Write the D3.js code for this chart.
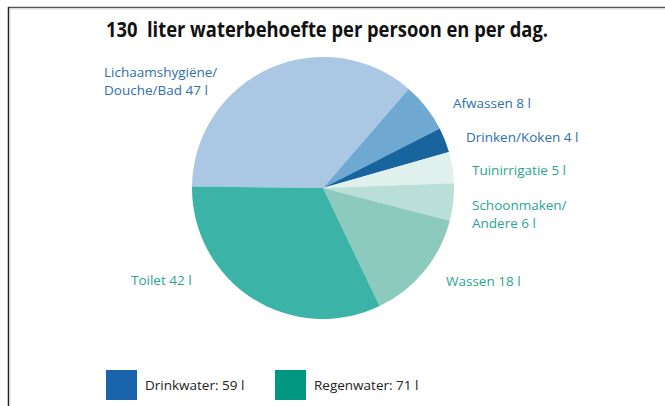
<!DOCTYPE html>
<html><head><meta charset="utf-8">
<script src="https://cdn.jsdelivr.net/npm/d3@7"></script>
<style>body{margin:0;background:#fff}svg{display:block}text{font-family:"Open Sans",sans-serif}</style>
</head><body>
<svg id="c" width="665" height="406"></svg>
<script>
const categories = ["Lichaamshygiëne/\nDouche/Bad 47 l","Afwassen 8 l","Drinken/Koken 4 l","Tuinirrigatie 5 l","Schoonmaken/\nAndere 6 l","Wassen 18 l","Toilet 42 l"];
const values = [47, 8, 4, 5, 6, 18, 42];
const sliceColors = ["#aac8e3","#6fa9d1","#17649f","#e0f0ed","#b9dfd8","#8ccabe","#3bb4a7"];
const labelColors = ["#2f6fab","#2f6fab","#2f6fab","#2aa593","#2aa593","#2aa593","#2aa593"];
const labelPos = [[104,77,"start"],[453,108,"start"],[466,142,"start"],[472,175,"start"],[472,210,"start"],[446,286,"start"],[131,285,"start"]];
const legendLabels = ["Drinkwater: 59 l","Regenwater: 71 l"];
const legendColors = ["#1a64ae","#009781"];
const title = "130  liter waterbehoefte per persoon en per dag.";

const svg = d3.select("#c");
// frame
svg.append("line").attr("x1",8).attr("x2",665).attr("y1",7.5).attr("y2",7.5).attr("stroke","#555").attr("stroke-width",1.5);
svg.append("line").attr("x1",9).attr("x2",665).attr("y1",9).attr("y2",9).attr("stroke","#ddd").attr("stroke-width",1);
svg.append("line").attr("x1",8.5).attr("x2",8.5).attr("y1",7).attr("y2",406).attr("stroke","#222").attr("stroke-width",1.5);
svg.append("line").attr("x1",10).attr("x2",10).attr("y1",9).attr("y2",406).attr("stroke","#ddd").attr("stroke-width",1);

svg.append("text").attr("x",106).attr("y",37).attr("font-size",20.5).attr("font-weight",700)
  .style("white-space","pre")
  .attr("fill","#111").attr("textLength",442).attr("lengthAdjust","spacingAndGlyphs").text(title);

const cx = 323, cy = 188, r = 131;
const pie = d3.pie().sort(null).startAngle(-Math.PI/2 + 0.012).endAngle(1.5*Math.PI + 0.012);
const arc = d3.arc().innerRadius(0).outerRadius(r);
const g = svg.append("g").attr("transform",`translate(${cx},${cy})`);
g.selectAll("path").data(pie(values)).join("path").attr("d",arc).attr("fill",(d,i)=>sliceColors[i]);

categories.forEach((c,i)=>{
  const t = svg.append("text").attr("x",labelPos[i][0]).attr("y",labelPos[i][1]).attr("font-size",13.5)
    .attr("fill",labelColors[i]).attr("text-anchor",labelPos[i][2]);
  c.split("\n").forEach((s,j)=>t.append("tspan").attr("x",labelPos[i][0]).attr("dy",j?18:0).text(s));
});

const lx = d3.scalePoint().domain(legendLabels).range([106,275]);
legendLabels.forEach((l,i)=>{
  const x = lx(l);
  svg.append("rect").attr("x",x).attr("y",370).attr("width",31).attr("height",30).attr("fill",legendColors[i]);
  svg.append("text").attr("x",x+39).attr("y",390).attr("font-size",13.5).attr("fill","#222").text(l);
});
</script>
</body></html>
